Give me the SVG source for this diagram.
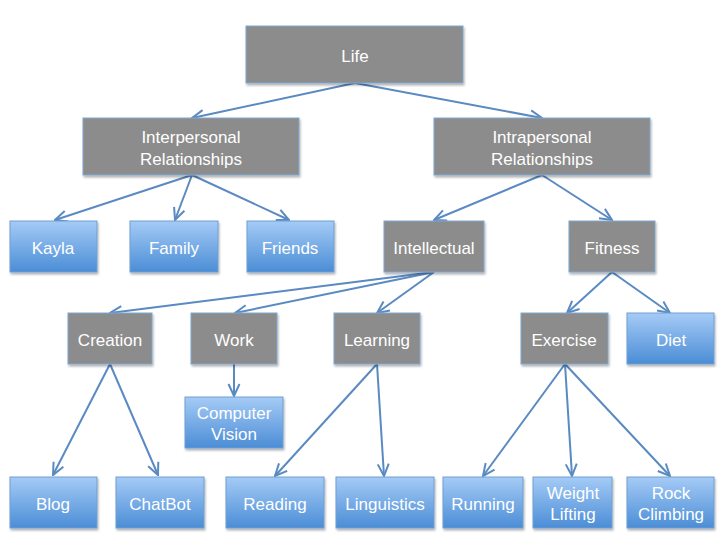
<svg xmlns="http://www.w3.org/2000/svg" width="721" height="540" viewBox="0 0 721 540">
<defs>
<linearGradient id="blue" x1="0" y1="0" x2="0" y2="1">
<stop offset="0" stop-color="#a5cbf6"/>
<stop offset="1" stop-color="#4b8dd6"/>
</linearGradient>
<filter id="sh" x="-10%" y="-10%" width="130%" height="140%">
<feDropShadow dx="1" dy="2" stdDeviation="1.2" flood-color="#000" flood-opacity="0.3"/>
</filter>
<marker id="ah" viewBox="0 0 14 14" refX="13" refY="7" markerWidth="14" markerHeight="14" markerUnits="userSpaceOnUse" orient="auto">
<path d="M1,1.5 L13,7 L1,12.5" fill="none" stroke="#5a8ac2" stroke-width="2"/>
</marker>
</defs>
<style>
.g{fill:#8c8c8c;stroke:#7ea7d2;stroke-width:1;filter:url(#sh)}
.b{fill:url(#blue);stroke:#6e9fd4;stroke-width:1;filter:url(#sh)}
text{font-family:"Liberation Sans",Arial,sans-serif;font-size:17px;fill:#fff;text-anchor:middle}
.c line{stroke:#5a8ac2;stroke-width:2;marker-end:url(#ah)}
</style>
<rect width="721" height="540" fill="#fff"/>
<g class="c" id="connectors">
<line x1="355" y1="83" x2="192" y2="118"/>
<line x1="355" y1="83" x2="542" y2="118"/>
<line x1="192" y1="175" x2="55" y2="220"/>
<line x1="192" y1="175" x2="175" y2="220"/>
<line x1="192" y1="175" x2="289" y2="220"/>
<line x1="542" y1="175" x2="434" y2="220"/>
<line x1="542" y1="175" x2="612" y2="220"/>
<line x1="434" y1="272" x2="110" y2="313"/>
<line x1="434" y1="272" x2="235" y2="313"/>
<line x1="434" y1="272" x2="377" y2="313"/>
<line x1="612" y1="272" x2="567" y2="313"/>
<line x1="612" y1="272" x2="670" y2="313"/>
<line x1="110" y1="364" x2="53" y2="475"/>
<line x1="110" y1="364" x2="158" y2="475"/>
<line x1="234" y1="364" x2="234" y2="396"/>
<line x1="377" y1="364" x2="275" y2="476"/>
<line x1="377" y1="364" x2="384" y2="476"/>
<line x1="565" y1="364" x2="483" y2="476"/>
<line x1="565" y1="364" x2="572" y2="476"/>
<line x1="565" y1="364" x2="670" y2="476"/>
</g>
<g id="life"><rect class="g" x="246" y="26" width="217" height="57"/><text x="355" y="62">Life</text></g>
<g id="interpersonal"><rect class="g" x="83" y="118" width="216" height="57"/><text x="191" y="143">Interpersonal</text><text x="191" y="165">Relationships</text></g>
<g id="intrapersonal"><rect class="g" x="434" y="118" width="216" height="57"/><text x="542" y="143">Intrapersonal</text><text x="542" y="165">Relationships</text></g>
<g id="kayla"><rect class="b" x="10" y="221" width="87" height="51"/><text x="53" y="254">Kayla</text></g>
<g id="family"><rect class="b" x="130" y="221" width="88" height="51"/><text x="174" y="254">Family</text></g>
<g id="friends"><rect class="b" x="247" y="221" width="87" height="51"/><text x="290" y="254">Friends</text></g>
<g id="intellectual"><rect class="g" x="384" y="221" width="100" height="51"/><text x="434" y="254">Intellectual</text></g>
<g id="fitness"><rect class="g" x="569" y="221" width="86" height="51"/><text x="612" y="254">Fitness</text></g>
<g id="creation"><rect class="g" x="68" y="313" width="84" height="51"/><text x="110" y="346">Creation</text></g>
<g id="work"><rect class="g" x="191" y="313" width="86" height="51"/><text x="234" y="346">Work</text></g>
<g id="learning"><rect class="g" x="334" y="313" width="86" height="51"/><text x="377" y="346">Learning</text></g>
<g id="exercise"><rect class="g" x="521" y="313" width="87" height="51"/><text x="564" y="346">Exercise</text></g>
<g id="diet"><rect class="b" x="627" y="313" width="87" height="51"/><text x="671" y="346">Diet</text></g>
<g id="computer-vision"><rect class="b" x="185" y="397" width="98" height="51"/><text x="234" y="419">Computer</text><text x="234" y="440">Vision</text></g>
<g id="blog"><rect class="b" x="10" y="477" width="87" height="51"/><text x="53" y="510">Blog</text></g>
<g id="chatbot"><rect class="b" x="116" y="477" width="88" height="51"/><text x="160" y="510">ChatBot</text></g>
<g id="reading"><rect class="b" x="226" y="477" width="98" height="51"/><text x="275" y="510">Reading</text></g>
<g id="linguistics"><rect class="b" x="336" y="477" width="98" height="51"/><text x="385" y="510">Linguistics</text></g>
<g id="running"><rect class="b" x="443" y="477" width="80" height="51"/><text x="483" y="510">Running</text></g>
<g id="weight-lifting"><rect class="b" x="533" y="477" width="79" height="51"/><text x="573" y="499">Weight</text><text x="573" y="520">Lifting</text></g>
<g id="rock-climbing"><rect class="b" x="627" y="477" width="87" height="51"/><text x="671" y="499">Rock</text><text x="671" y="520">Climbing</text></g>
</svg>
